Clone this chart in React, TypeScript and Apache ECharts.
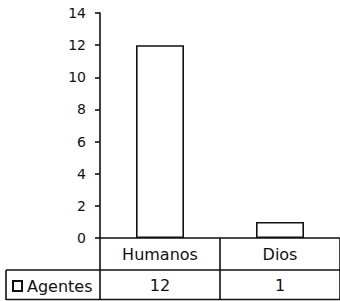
import React, { useEffect, useRef } from "react";
import * as echarts from "echarts";

const categories = ["Humanos", "Dios"];
const seriesName = "Agentes";
const values = [12, 1];
const yTicks = [0, 2, 4, 6, 8, 10, 12, 14];

const FONT = "DejaVu Sans";

export default function App() {
  const ref = useRef<HTMLDivElement>(null);
  useEffect(() => {
    if (!ref.current) return;
    const chart = echarts.init(ref.current, undefined, { renderer: "svg" });
    const lineStyle = { color: "#111", width: 1.6 };
    chart.setOption({
      animation: false,
      backgroundColor: "#fff",
      grid: { left: 100, top: 13, bottom: 63, width: 246 },
      legend: {
        show: true,
        left: 12,
        top: 278,
        padding: 0,
        itemWidth: 9,
        itemHeight: 10,
        itemGap: 4,
        icon: "rect",
        textStyle: { fontFamily: FONT, fontSize: 16, color: "#111" },
        data: [seriesName],
      },
      xAxis: [
        {
          type: "category",
          data: categories,
          position: "bottom",
          axisLine: { show: true, lineStyle },
          axisTick: { show: true, length: 62, lineStyle },
          axisLabel: { fontFamily: FONT, fontSize: 16, color: "#111", margin: 8 },
        },
        {
          type: "category",
          data: categories,
          position: "bottom",
          offset: 31,
          axisLine: { show: false },
          axisTick: { show: false },
          axisLabel: {
            fontFamily: FONT,
            fontSize: 16,
            color: "#111",
            margin: 8,
            formatter: (_v: string, i: number) => String(values[i]),
          },
        },
      ],
      yAxis: {
        type: "value",
        min: yTicks[0],
        max: yTicks[yTicks.length - 1],
        interval: 2,
        splitLine: { show: false },
        axisLine: { show: true, lineStyle },
        axisTick: { show: true, length: 5, lineStyle },
        axisLabel: { fontFamily: FONT, fontSize: 14, color: "#111", margin: 14 },
      },
      series: [
        {
          name: seriesName,
          type: "bar",
          data: values,
          barWidth: "40%",
          itemStyle: { color: "#fff", borderColor: "#111", borderWidth: 1.6 },
        },
      ],
      graphic: [
        { type: "line", shape: { x1: 6, y1: 270, x2: 340, y2: 270 }, style: { stroke: "#111", lineWidth: 1.6 } },
        { type: "line", shape: { x1: 6, y1: 299.5, x2: 340, y2: 299.5 }, style: { stroke: "#111", lineWidth: 1.6 } },
        { type: "line", shape: { x1: 6, y1: 270, x2: 6, y2: 300 }, style: { stroke: "#111", lineWidth: 1.6 } },
      ],
    });
    return () => chart.dispose();
  }, []);
  return <div ref={ref} style={{ width: 340, height: 301, position: "absolute", left: 0, top: 0 }} />;
}
